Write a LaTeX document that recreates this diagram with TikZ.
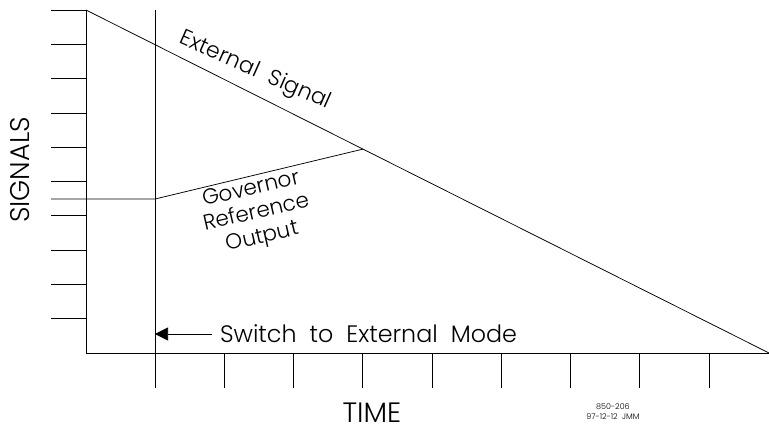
\documentclass[tikz,border=0pt]{standalone}
\usepackage{fontspec}
\IfFontExistsTF{Poppins Light}{\setmainfont{Poppins Light}}{\setmainfont{Poppins}}
\usetikzlibrary{arrows.meta}
\tikzset{
  axisline/.style={line width=0.75pt, black},
  sigline/.style={line width=0.75pt, black},
  lbl/.style={inner sep=0pt, outer sep=0pt},
}
\begin{document}
\begin{tikzpicture}[x=1pt,y=-1pt]
  \useasboundingbox (0,0) rectangle (769,426);
  % axes
  \coordinate (ytop) at (86,10);
  \coordinate (org) at (86,353);
  \coordinate (xend) at (769,353);
  \draw[axisline] (ytop) -- (org) -- (xend);
  % signal ticks along the vertical axis
  \foreach \k in {0,...,9}
    \draw[axisline] (51,{10+34.3*\k}) -- (86,{10+34.3*\k});
  % time ticks along the horizontal axis
  \foreach \k in {1,...,8}
    \draw[axisline] ({155+69.25*\k},353) -- ({155+69.25*\k},388);
  % switch-over instant
  \coordinate (swtop) at (155,10);
  \coordinate (swbot) at (155,388);
  \draw[axisline] (swtop) -- (swbot);
  % external signal ramp
  \draw[sigline] (ytop) -- (xend);
  % governor reference output
  \coordinate (govstart) at (51,199);
  \coordinate (govknee) at (155,199);
  \coordinate (govmeet) at (363,149.1);
  \draw[sigline] (govstart) -- (govknee) -- (govmeet);
  % labels
  \node[lbl, rotate=-24, font=\fontsize{22}{26}\selectfont] (extlbl) at (255,71) {External\ \ Signal};
  \node[lbl, rotate=13, align=center, font=\fontsize{21.5}{24.5}\selectfont] (govlbl) at (257,214) {Governor\\Reference\\Output};
  \node[lbl, anchor=west, font=\fontsize{23.8}{28}\selectfont] (swlbl) at (220,334) {Switch\ \ to\ \ External\ \ Mode};
  \coordinate (arrstart) at (212,334);
  \coordinate (arrtip) at (155,334);
  \draw[sigline, -{Triangle[length=13pt,width=13pt]}] (arrstart) -- (arrtip);
  \node[lbl, rotate=90, font=\fontsize{27}{32}\selectfont] (ylbl) at (20,170) {SIGNALS};
  \node[lbl, anchor=base, font=\fontsize{28}{32}\selectfont] (xlbl) at (372,422) {TIME};
  \node[lbl, align=center, font=\fontsize{8}{10}\selectfont] (dwg) at (613,412) {850-206\\97-12-12\ \ JMM};
\end{tikzpicture}
\end{document}
